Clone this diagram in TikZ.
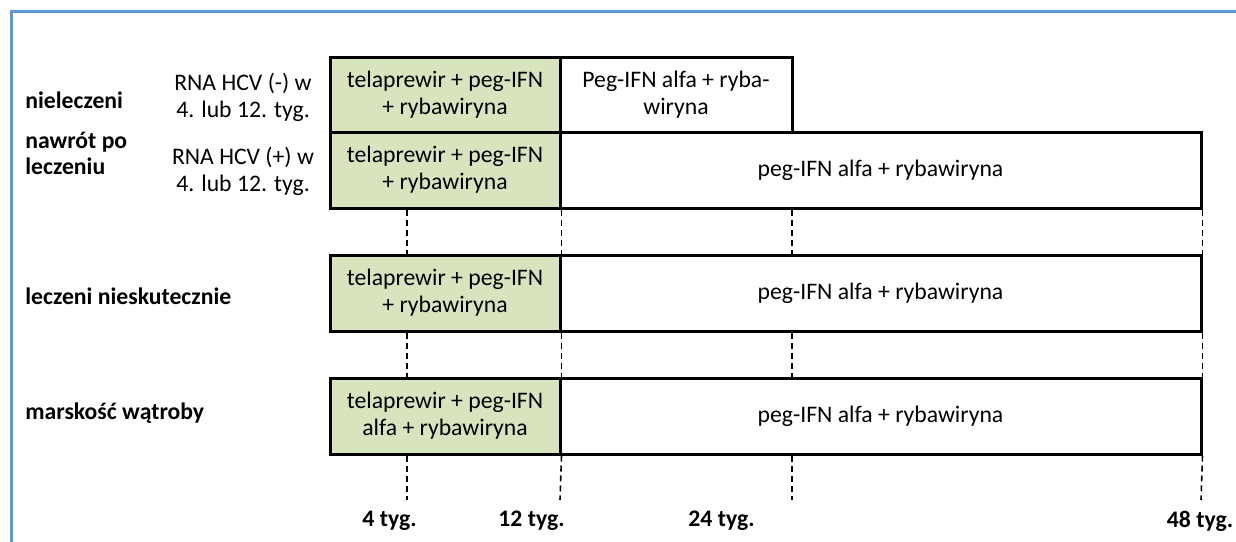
\documentclass[tikz,border=0pt]{standalone}
\usepackage{fontspec}
\setmainfont{Carlito}
\definecolor{frameblue}{HTML}{5B9BD5}
\definecolor{phasegreen}{HTML}{D7E4BD}
\begin{document}
\begin{tikzpicture}[x=0.5pt,y=-0.5pt,
  every node/.style={font=\fontsize{11.85}{13.5}\selectfont, inner sep=0pt},
  box/.style={draw=black, line width=1.5pt, align=center, minimum height=38pt},
  tripleph/.style={box, fill=phasegreen, minimum width=115pt},
  dualph/.style={box, fill=white},
  grp/.style={font=\fontsize{11.85}{13}\selectfont\bfseries, align=left, anchor=west},
  cond/.style={align=center},
  wk/.style={font=\fontsize{11.85}{13.5}\selectfont\bfseries},
  tick/.style={dash pattern=on 3pt off 2pt, line width=0.8pt},
  tickbold/.style={dash pattern=on 3pt off 2pt, line width=1.2pt}]
\useasboundingbox (0,0) rectangle (1236,541);

% outer frame
\draw[frameblue, line width=1.5pt] (11,545) -- (11,11) -- (1240,11);

% time axis positions
\coordinate (tk4)  at (407,500);
\coordinate (tk12) at (560,500);
\coordinate (tk24) at (792,500);
\coordinate (tk48) at (1201,500);

% row 1: untreated / relapse, RNA negative
\node[tripleph, minimum height=37.5pt] (g1) at (445,94.5) {telaprewir + peg-IFN\\+ rybawiryna};
\node[dualph, minimum width=116pt, minimum height=37.5pt] (w1) at (676,94.5) {Peg-IFN alfa + ryba-\\wiryna};

% row 2: untreated / relapse, RNA positive
\node[tripleph] (g2) at (445,170) {telaprewir + peg-IFN\\+ rybawiryna};
\node[dualph, minimum width=320.5pt] (w2) at (880.5,170) {peg-IFN alfa + rybawiryna};

% row 3: treatment failures
\node[tripleph] (g3) at (445,293) {telaprewir + peg-IFN\\+ rybawiryna};
\node[dualph, minimum width=320.5pt] (w3) at (880.5,293) {peg-IFN alfa + rybawiryna};

% row 4: cirrhosis
\node[tripleph] (g4) at (445,416) {telaprewir + peg-IFN\\alfa + rybawiryna};
\node[dualph, minimum width=320.5pt] (w4) at (880.5,416) {peg-IFN alfa + rybawiryna};

% group labels
\node[grp] (lnie) at (25,100) {nieleczeni};
\node[grp] (lnaw) at (25,153) {nawrót po\\leczeniu};
\node[grp] (lnsk) at (25,296) {leczeni nieskutecznie};
\node[grp] (lmar) at (25,413) {marskość wątroby};

% RNA conditions
\node[cond] (rneg) at (243,97) {RNA HCV (-) w\\4. lub 12. tyg.};
\node[cond] (rpos) at (243,171) {RNA HCV (+) w\\4. lub 12. tyg.};

% week markers between rows
\draw[tickbold] (g2.south -| tk4) -- (g3.north -| tk4);
\draw[tick] (g2.south east) -- (g3.north east);
\draw[tick] (w2.south -| tk24) -- (w3.north -| tk24);
\draw[tick] (w2.south east) -- (w3.north east);

\draw[tickbold] (g3.south -| tk4) -- (g4.north -| tk4);
\draw[tick] (g3.south east) -- (g4.north east);
\draw[tick] (w3.south -| tk24) -- (w4.north -| tk24);
\draw[tick] (w3.south east) -- (w4.north east);

\draw[tickbold] (g4.south -| tk4) -- (tk4);
\draw[tick] (g4.south east) -- (tk12);
\draw[tick] (w4.south -| tk24) -- (tk24);
\draw[tick] (w4.south east) -- (tk48);

% week labels
\node[wk] (l4)  at (389.5,521) {4 tyg.};
\node[wk] (l12) at (531.5,521) {12 tyg.};
\node[wk] (l24) at (721.5,521) {24 tyg.};
\node[wk] (l48) at (1200,521) {48 tyg.};
\end{tikzpicture}
\end{document}
